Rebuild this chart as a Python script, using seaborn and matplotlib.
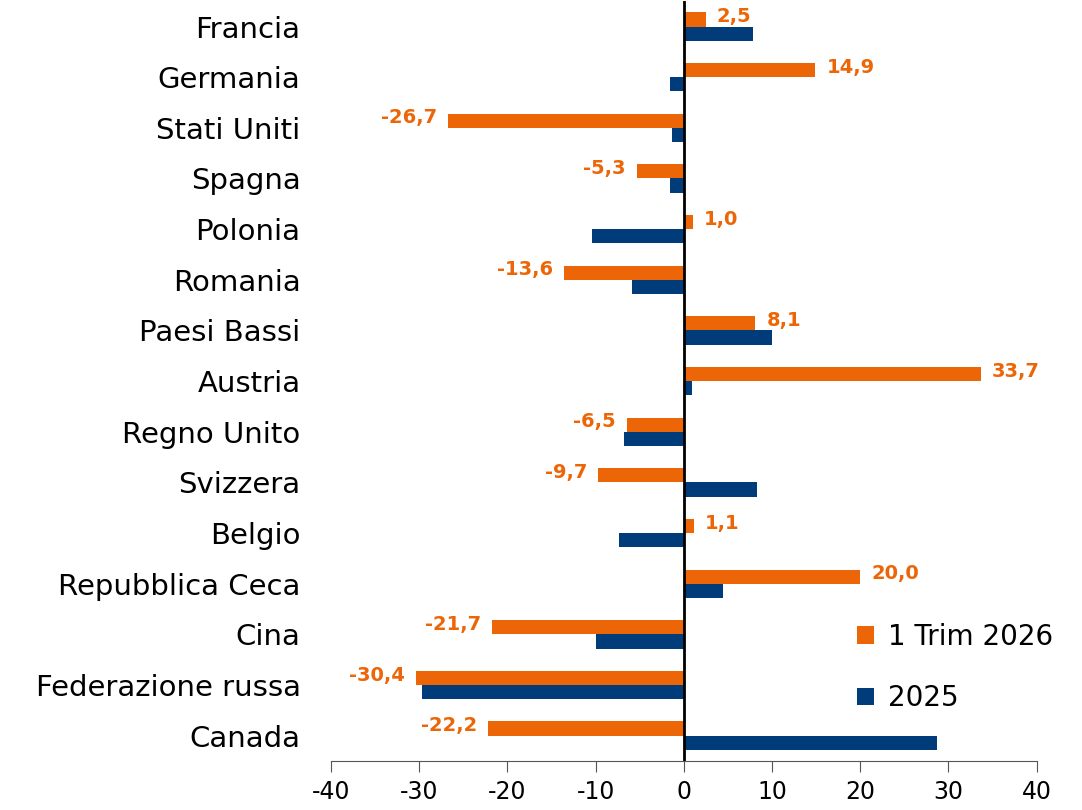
import pandas as pd
import seaborn as sns
import matplotlib.pyplot as plt

paesi = ["Francia", "Germania", "Stati Uniti", "Spagna", "Polonia", "Romania",
         "Paesi Bassi", "Austria", "Regno Unito", "Svizzera", "Belgio",
         "Repubblica Ceca", "Cina", "Federazione russa", "Canada"]
trim_2026 = [2.5, 14.9, -26.7, -5.3, 1.0, -13.6, 8.1, 33.7, -6.5, -9.7, 1.1,
             20.0, -21.7, -30.4, -22.2]
anno_2025 = [7.9, -1.6, -1.3, -1.6, -10.4, -5.9, 10.0, 0.9, -6.8, 8.3, -7.4,
             4.4, -10.0, -29.7, 28.7]
serie = ["1 Trim 2026", "2025"]
colori = ["#EC6608", "#003B7A"]

df = pd.DataFrame({
    "paese": paesi * 2,
    "valore": trim_2026 + anno_2025,
    "serie": [serie[0]] * len(paesi) + [serie[1]] * len(paesi),
})

sns.set_style("white")
plt.rcParams["font.family"] = ["DejaVu Sans"]
plt.rcParams["axes.unicode_minus"] = False
plt.rcParams["text.color"] = "black"
plt.rcParams["xtick.color"] = "black"
plt.rcParams["ytick.color"] = "black"

fig = plt.figure(figsize=(10.82, 8.10), dpi=100)
ax = fig.add_axes([0.306, 0.0605, 0.652, 0.938])

sns.barplot(data=df, y="paese", x="valore", hue="serie", hue_order=serie,
            palette=colori, orient="h", width=0.56, saturation=1, linewidth=0, ax=ax)

# etichette solo per il primo trimestre
for i, v in enumerate(trim_2026):
    testo = f"{v:.1f}".replace(".", ",")
    if v >= 0:
        ax.annotate(testo, (v, i - 0.14), xytext=(8, 2), textcoords="offset points",
                    ha="left", va="center", color=colori[0], fontsize=14, fontweight="bold")
    else:
        ax.annotate(testo, (v, i - 0.14), xytext=(-8, 2), textcoords="offset points",
                    ha="right", va="center", color=colori[0], fontsize=14, fontweight="bold")

ax.axvline(0, color="black", lw=2)
ax.set_xlim(-40, 40)
ax.set_xticks(range(-40, 41, 10))
ax.set_ylim(len(paesi) - 0.5, -0.5)
ax.set_xlabel("")
ax.set_ylabel("")
sns.despine(ax=ax, left=True)
ax.spines["bottom"].set_color("#555555")
ax.tick_params(axis="x", length=8, color="#555555", labelcolor="black", labelsize=17, pad=6,
               direction="out", bottom=True)
ax.tick_params(axis="y", length=0, labelcolor="black", labelsize=21, pad=22)

ax.legend(loc="center left", bbox_to_anchor=(0.71, 0.123), frameon=False, fontsize=20,
          handlelength=0.6, handleheight=0.6, handletextpad=0.5, labelspacing=1.2)

fig.savefig("out.png", dpi=100)
